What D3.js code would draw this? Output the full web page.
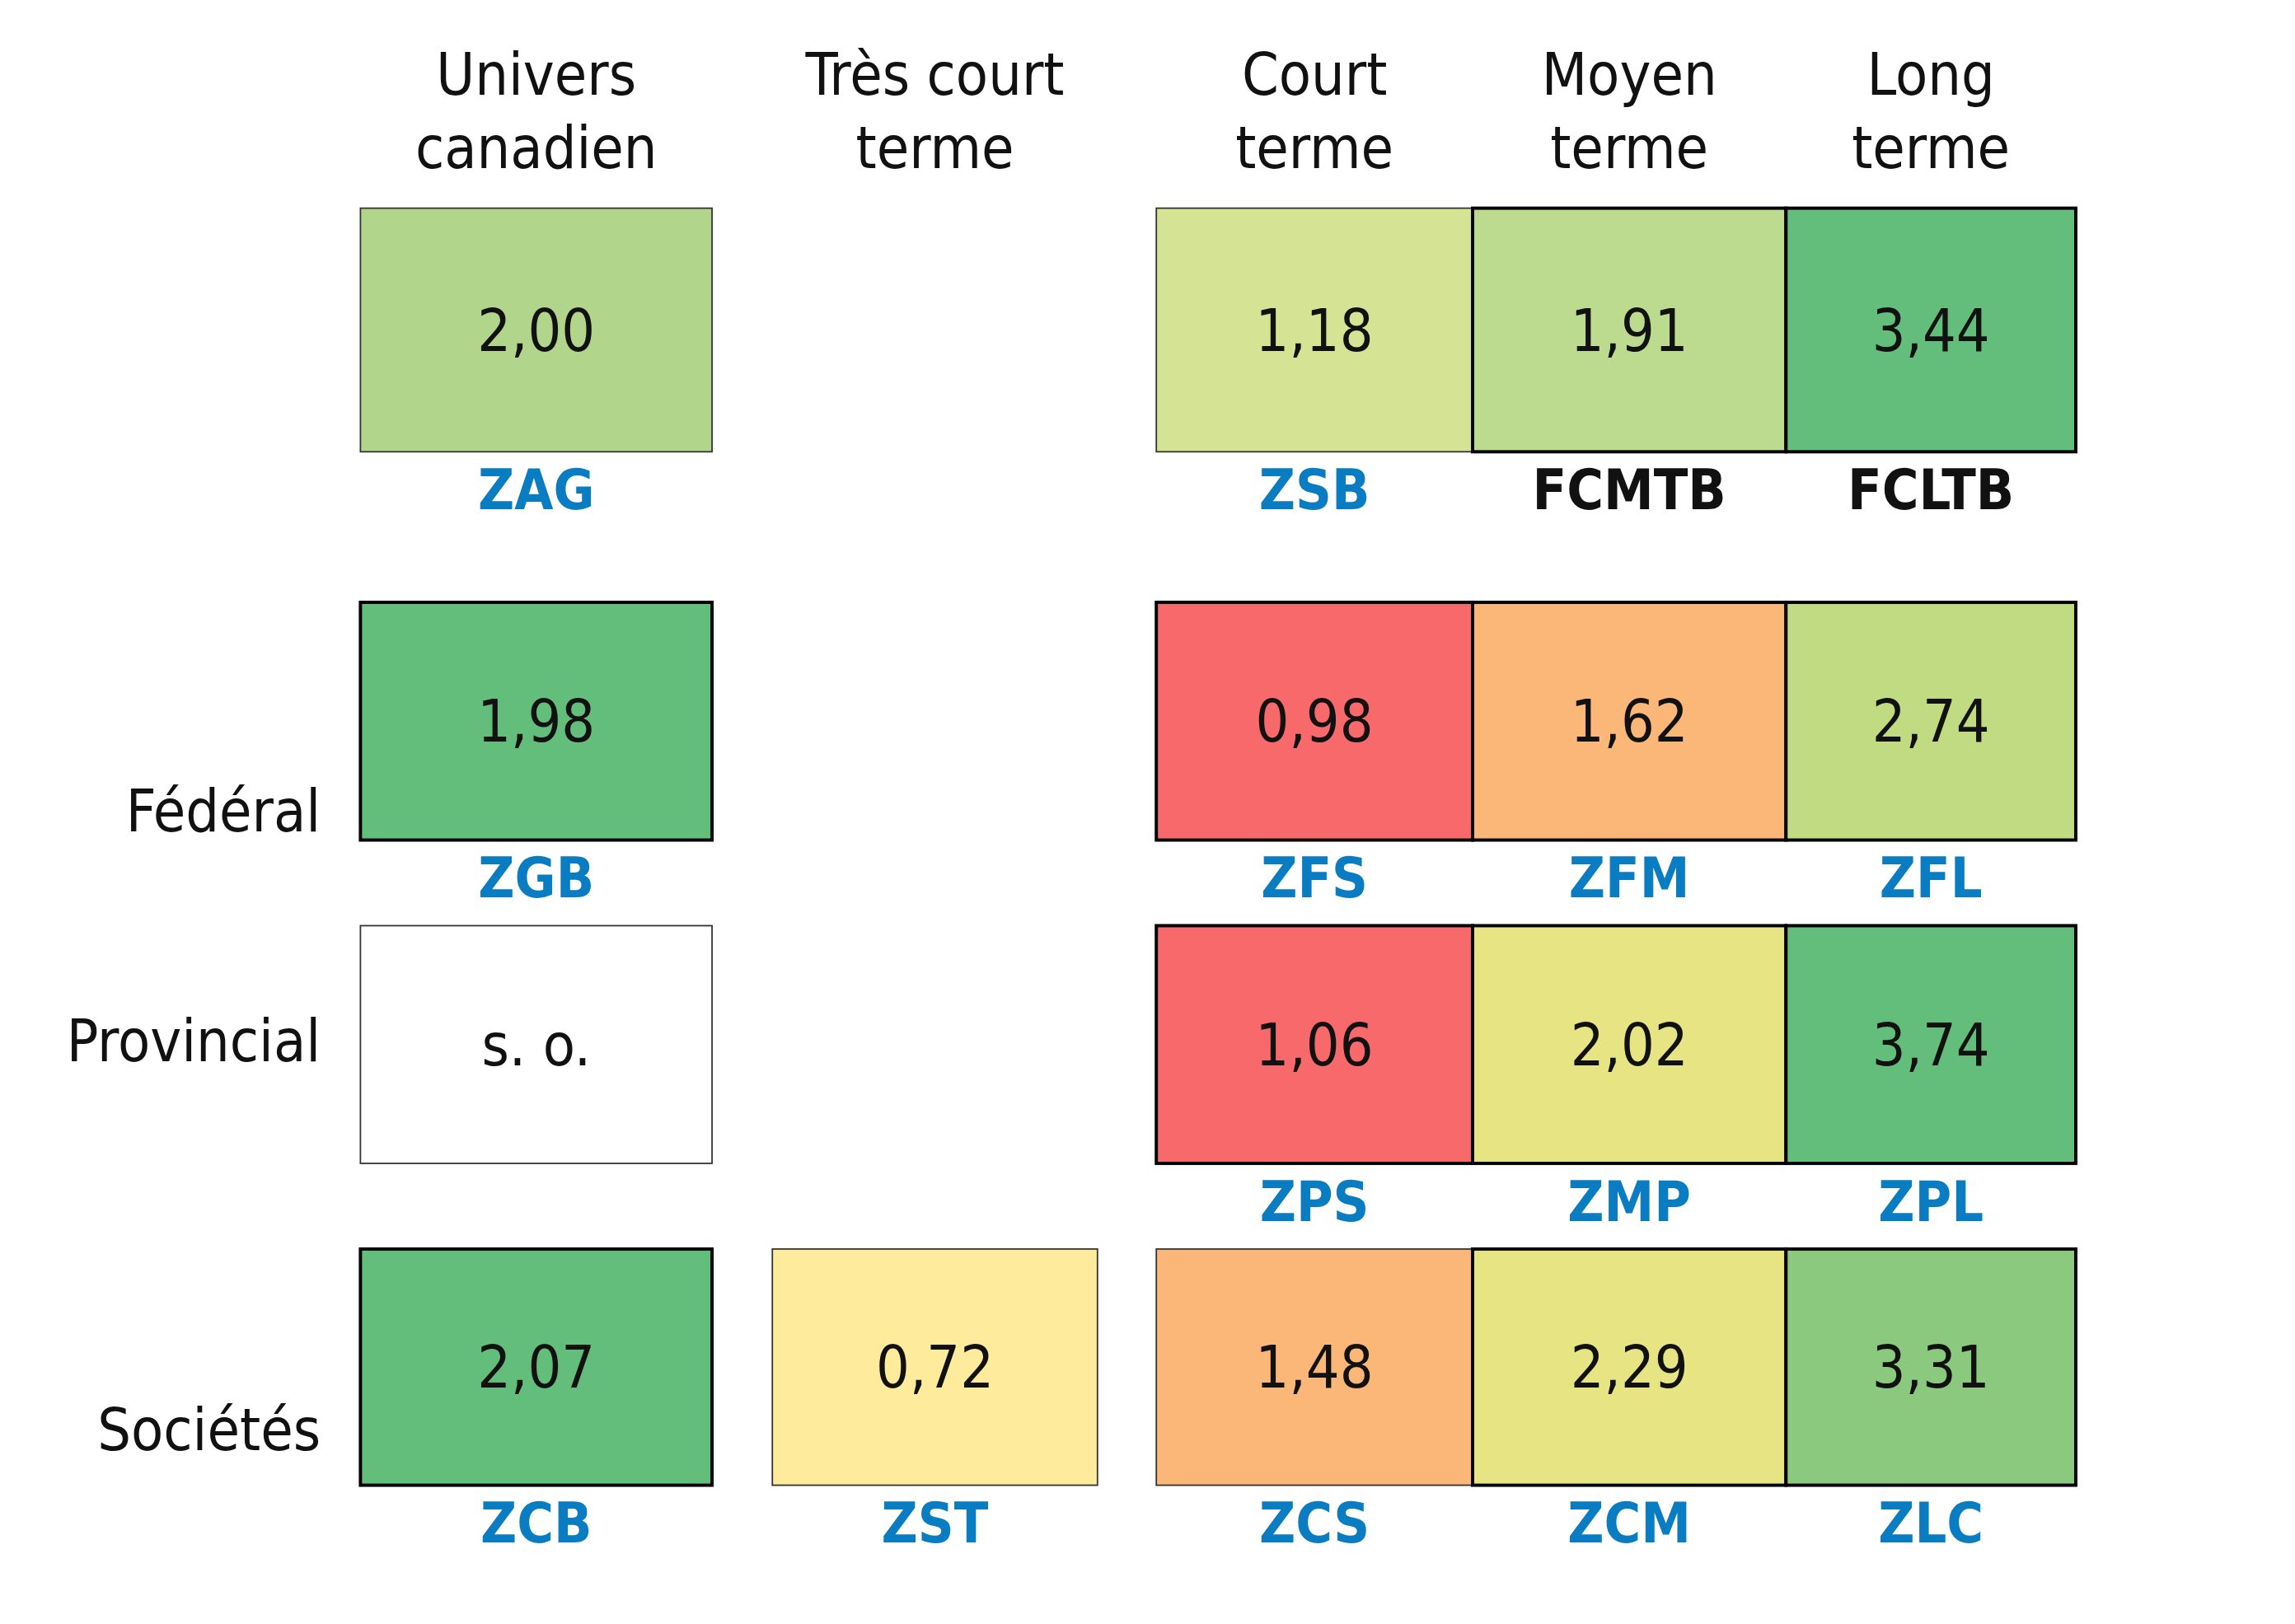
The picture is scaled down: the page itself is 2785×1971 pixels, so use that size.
<!DOCTYPE html>
<html>
<head>
<meta charset="utf-8">
<script src="https://cdn.jsdelivr.net/npm/d3@7"></script>
<style>
  body { margin: 0; background: #fff; }
  text { font-family: "Liberation Sans Narrow", "DejaVu Sans Condensed", "Roboto Condensed", sans-serif; }
</style>
</head>
<body>
<svg id="chart"></svg>
<script>
// Column headers (two lines each)
const columns = ["univers", "tres", "court", "moyen", "long"];
const headers = [["Univers", "canadien"], ["Très court", "terme"], ["Court", "terme"], ["Moyen", "terme"], ["Long", "terme"]];
const rows = ["all", "fed", "prov", "corp"];
const rowLabels = ["", "Fédéral", "Provincial", "Sociétés"];

// Cells: row, column, value text, ticker
const cellRow    = ["all", "all", "all", "all", "fed", "fed", "fed", "fed", "prov", "prov", "prov", "prov", "corp", "corp", "corp", "corp", "corp"];
const cellCol    = ["univers", "court", "moyen", "long", "univers", "court", "moyen", "long", "univers", "court", "moyen", "long", "univers", "tres", "court", "moyen", "long"];
const cellValue  = ["2,00", "1,18", "1,91", "3,44", "1,98", "0,98", "1,62", "2,74", "s. o.", "1,06", "2,02", "3,74", "2,07", "0,72", "1,48", "2,29", "3,31"];
const cellTicker = ["ZAG", "ZSB", "FCMTB", "FCLTB", "ZGB", "ZFS", "ZFM", "ZFL", "", "ZPS", "ZMP", "ZPL", "ZCB", "ZST", "ZCS", "ZCM", "ZLC"];
const cellColor  = ["#b1d68b", "#d5e494", "#bcdb8e", "#63be7b", "#63be7b", "#f8696b", "#fbb778", "#c1db82", "#ffffff", "#f8696b", "#e6e483", "#63be7b", "#63be7b", "#feeb9c", "#fbb778", "#e6e483", "#8bc97e"];
const cellStrong = [false, false, true, true, true, true, true, true, false, true, true, true, true, false, false, true, true];
const blackTickers = ["FCMTB", "FCLTB"];

const W = 1560, H = 1100;
const svg = d3.select("#chart")
  .attr("width", 2785).attr("height", 1971)
  .attr("viewBox", `0 0 ${W} ${H}`)
  .attr("preserveAspectRatio", "none");

// Layout scales
const xLeft  = d3.scaleOrdinal().domain(columns).range([245, 525, 786, 1001, 1214]);
const xRight = d3.scaleOrdinal().domain(columns).range([484, 746, 1001, 1214, 1411]);
const yTop   = d3.scaleOrdinal().domain(rows).range([141, 408, 627, 846]);
const yBot   = d3.scaleOrdinal().domain(rows).range([306, 569, 788, 1006]);
const xMid = c => (xLeft(c) + xRight(c)) / 2;

// Headers
columns.forEach((c, i) => {
  headers[i].forEach((line, j) => {
    svg.append("text")
      .attr("x", xMid(c)).attr("y", 64 + j * 50)
      .attr("text-anchor", "middle")
      .attr("font-size", 40).attr("fill", "#111")
      .text(line);
  });
});

// Row labels
svg.selectAll(".row-label")
  .data(rows.slice(1))
  .join("text")
  .attr("class", "row-label")
  .attr("x", 218)
  .attr("y", (d, i) => [563, 719, 982][i])
  .attr("text-anchor", "end")
  .attr("font-size", 40).attr("fill", "#111")
  .text((d, i) => rowLabels[i + 1]);

const cells = cellValue.map((v, i) => ({
  row: cellRow[i], col: cellCol[i], value: v, ticker: cellTicker[i],
  color: cellColor[i], strong: cellStrong[i]
}));

// thin first, strong on top
const sorted = cells.slice().sort((a, b) => a.strong - b.strong);
svg.selectAll(".cell")
  .data(sorted)
  .join("rect")
  .attr("class", "cell")
  .attr("x", d => xLeft(d.col))
  .attr("y", d => yTop(d.row))
  .attr("width", d => xRight(d.col) - xLeft(d.col))
  .attr("height", d => yBot(d.row) - yTop(d.row))
  .attr("fill", d => d.color)
  .attr("stroke", d => d.strong ? "#000" : "#333")
  .attr("stroke-width", d => d.strong ? 2.2 : 1);

svg.selectAll(".value")
  .data(cells)
  .join("text")
  .attr("class", "value")
  .attr("x", d => xMid(d.col))
  .attr("y", d => (yTop(d.row) + yBot(d.row)) / 2 + 14)
  .attr("text-anchor", "middle")
  .attr("font-size", 40).attr("fill", "#111")
  .text(d => d.value);

svg.selectAll(".ticker")
  .data(cells.filter(d => d.ticker))
  .join("text")
  .attr("class", "ticker")
  .attr("x", d => xMid(d.col))
  .attr("y", d => yBot(d.row) + 39)
  .attr("text-anchor", "middle")
  .attr("font-size", 38).attr("font-weight", "bold")
  .attr("fill", d => blackTickers.includes(d.ticker) ? "#111" : "#0a7cc2")
  .text(d => d.ticker);
</script>
</body>
</html>
